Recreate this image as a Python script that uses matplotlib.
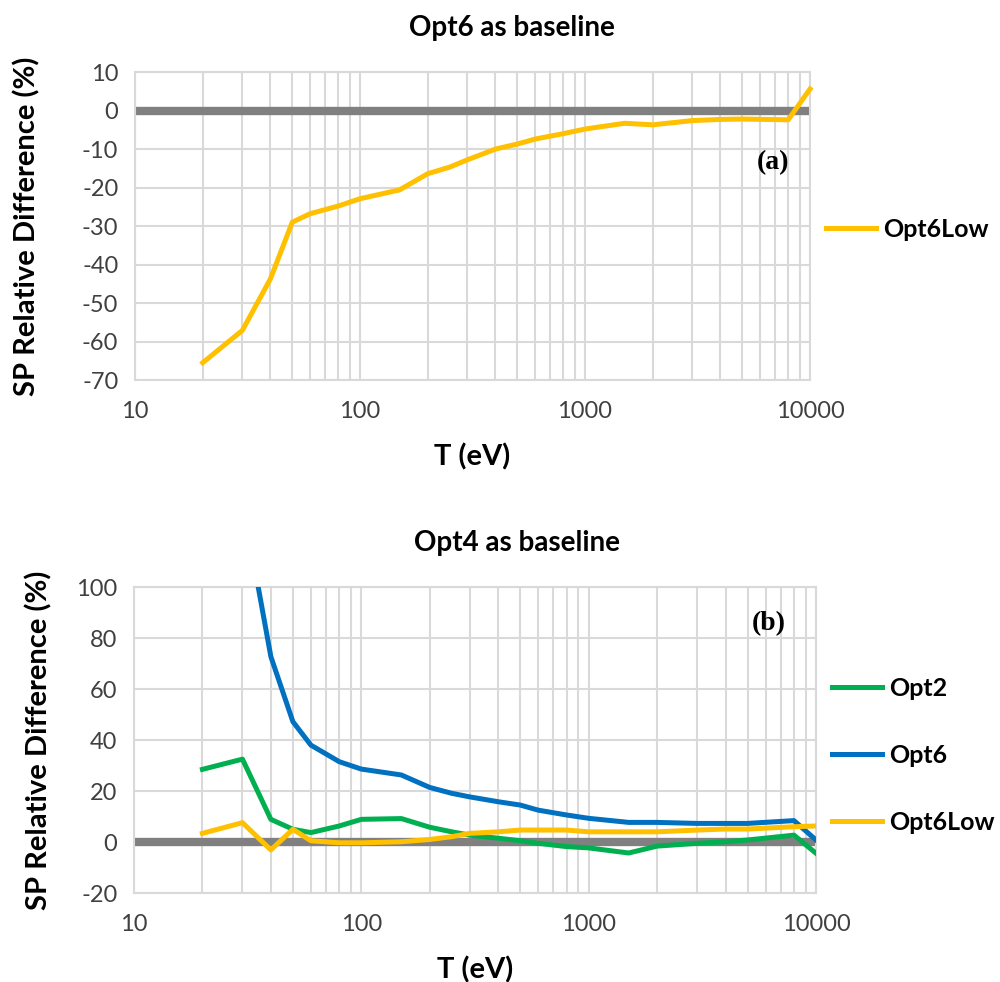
import numpy as np
import matplotlib
matplotlib.use("Agg")
import matplotlib.pyplot as plt
from matplotlib.ticker import FixedLocator, LogLocator, NullFormatter

plt.rcParams['font.family'] = ['Lato', 'DejaVu Sans']
plt.rcParams['axes.unicode_minus'] = False

# energies (eV)
T = [20, 30, 40, 50, 60, 80, 100, 150, 200, 250, 300, 400, 500, 600, 800,
     1000, 1500, 2000, 3000, 4000, 5000, 8000, 10000]

# panel (a): Opt6 as baseline
opt6low_a = [-65.5, -57.1, -43.7, -29.0, -26.8, -24.8, -22.9, -20.6, -16.4, -14.7,
             -12.8, -10.0, -8.7, -7.4, -6.0, -4.8, -3.3, -3.7, -2.6, -2.3, -2.2, -2.4, 5.6]

# panel (b): Opt4 as baseline
opt2_b = [28.5, 32.5, 8.9, 5.0, 3.7, 6.3, 8.9, 9.2, 5.8, 4.0, 2.7, 1.5, 0.5, -0.5,
          -1.8, -2.3, -4.3, -1.6, -0.5, 0.1, 0.8, 2.7, -4.4]
opt6_b = [np.nan, 134.0, 72.7, 47.2, 38.0, 31.5, 28.6, 26.3, 21.4, 19.1, 17.7, 15.8,
          14.5, 12.5, 10.6, 9.3, 7.7, 7.7, 7.3, 7.3, 7.3, 8.4, 0.8]
opt6low_b = [3.4, 7.6, -3.1, 5.0, 0.5, -0.3, -0.3, 0.1, 1.0, 2.1, 3.4, 4.0, 4.7, 4.7,
             4.7, 4.0, 4.0, 4.0, 4.7, 5.1, 5.1, 6.0, 6.3]

YELLOW = '#FFC000'
GREEN = '#00B050'
BLUE = '#0070C0'
GRID = '#d9d9d9'

fig = plt.figure(figsize=(10, 9.82), dpi=100)
ax1 = fig.add_axes([0.135, 0.613, 0.675, 0.3136])
ax2 = fig.add_axes([0.134, 0.0906, 0.682, 0.3116])


def style(ax, yticks, ylab_right):
    ax.set_xscale('log')
    ax.set_xlim(10, 10000)
    ax.set_ylim(yticks[0], yticks[-1])
    ax.yaxis.set_major_locator(FixedLocator(yticks))
    ax.xaxis.set_major_locator(FixedLocator([10, 100, 1000, 10000]))
    ax.set_xticklabels(['10', '100', '1000', '10000'])
    ax.xaxis.set_minor_locator(LogLocator(base=10, subs=np.arange(2, 10)))
    ax.xaxis.set_minor_formatter(NullFormatter())
    ax.grid(True, which='major', color=GRID, lw=1.5)
    ax.grid(True, which='minor', axis='x', color=GRID, lw=1.5)
    ax.tick_params(which='both', length=0, labelsize=17, colors='#404040')
    ax.tick_params(axis='x', pad=15)
    ax.tick_params(axis='y', pad=12)
    for s in ax.spines.values():
        s.set_color(GRID)
        s.set_linewidth(1.5)
    ax.axhline(0, color='#808080', lw=6, zorder=2)
    ax.set_xlabel('T (eV)', fontsize=21, fontweight='bold')
    ax.set_ylabel('SP Relative Difference (%)', fontsize=21, fontweight='bold')
    h = ax.get_position().height * 982
    w = ax.get_position().width * 1000
    left = ax.get_position().x0 * 1000
    ax.xaxis.set_label_coords(0.5, -63 / h)
    ax.yaxis.set_label_coords(-(left - ylab_right) / w, 0.5)


style(ax1, [-70, -60, -50, -40, -30, -20, -10, 0, 10], 40)
ax1.plot(T, opt6low_a, color=YELLOW, lw=3.6, label='Opt6Low', zorder=3, clip_on=False)
fig.text(0.512, 1 - 28 / 982, 'Opt6 as baseline', fontsize=20, fontweight='bold',
         ha='center', va='center')
ax1.text(0.97, 0.705, '(a)', transform=ax1.transAxes, fontsize=20, fontweight='bold',
         family='Liberation Serif', ha='right', va='center')
ax1.legend(loc='center left', bbox_to_anchor=(0.99, 0.49), frameon=False,
           prop={'size': 18, 'weight': 'bold'}, handlelength=2.0, handletextpad=0.3)

style(ax2, [-20, 0, 20, 40, 60, 80, 100], 52)
ax2.plot(T, opt2_b, color=GREEN, lw=3.6, label='Opt2', zorder=3)
ax2.plot(T, opt6_b, color=BLUE, lw=3.6, label='Opt6', zorder=3)
ax2.plot(T, opt6low_b, color=YELLOW, lw=3.6, label='Opt6Low', zorder=3)
fig.text(0.517, 1 - 543 / 982, 'Opt4 as baseline', fontsize=20, fontweight='bold',
         ha='center', va='center')
ax2.text(0.955, 0.88, '(b)', transform=ax2.transAxes, fontsize=20, fontweight='bold',
         family='Liberation Serif', ha='right', va='center')
ax2.legend(loc='center left', bbox_to_anchor=(0.99, 0.45), frameon=False,
           prop={'size': 18, 'weight': 'bold'}, handlelength=2.0, handletextpad=0.3,
           labelspacing=1.75)

fig.savefig('out.png', dpi=100)
